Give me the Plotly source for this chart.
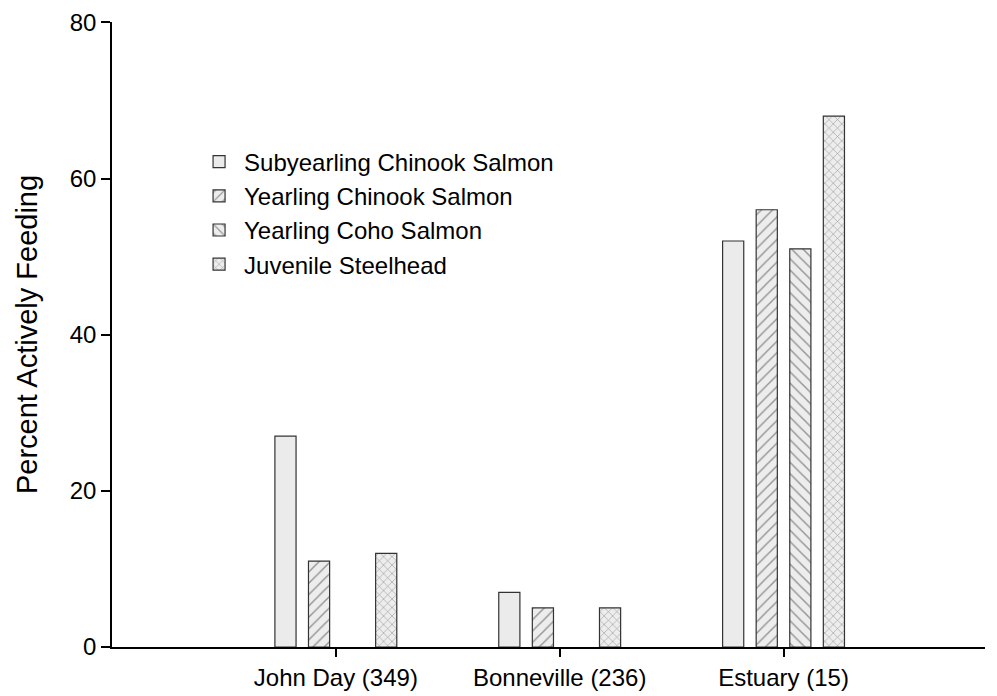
import plotly.graph_objects as go

categories = ["John Day (349)", "Bonneville (236)", "Estuary (15)"]
series_names = ["Subyearling Chinook Salmon", "Yearling Chinook Salmon",
                "Yearling Coho Salmon", "Juvenile Steelhead"]
subyearling_chinook = [27, 7, 52]
yearling_chinook = [11, 5, 56]
yearling_coho = [None, None, 51]
juvenile_steelhead = [12, 5, 68]
y_ticks = [0, 20, 40, 60, 80]

series_values = [subyearling_chinook, yearling_chinook, yearling_coho, juvenile_steelhead]
patterns = ["", "/", "\\", "x"]
pattern_sizes = [8, 8, 8, 6]

fig = go.Figure()
for name, vals, pat, psz in zip(series_names, series_values, patterns, pattern_sizes):
    fig.add_trace(go.Bar(
        x=categories, y=vals, name=name,
        marker=dict(
            color="#ebebeb",
            line=dict(color="#333333", width=1.2),
            pattern=dict(shape=pat, fgcolor="#3c3c3c", bgcolor="#ededed",
                         size=psz, solidity=0.18) if pat else None,
        ),
    ))

fig.update_layout(
    barmode="group",
    bargap=0.40,
    bargroupgap=0.37,
    width=989, height=688,
    paper_bgcolor="white", plot_bgcolor="white",
    margin=dict(l=104, r=12, t=14, b=49, autoexpand=False),
    font=dict(family="Liberation Sans, Arial, sans-serif", size=24, color="black"),
    legend=dict(x=0.094, y=0.812, xanchor="left", yanchor="top",
                font=dict(size=24), bgcolor="rgba(0,0,0,0)",
                itemwidth=40, tracegroupgap=0),
    showlegend=True,
)
fig.update_xaxes(
    range=[-1.0, 2.9],
    showline=True, linecolor="black", linewidth=1.5,
    ticks="outside", ticklen=8, tickwidth=1.5, tickcolor="black",
    showgrid=False, zeroline=False,
    tickfont=dict(size=24),
)
fig.update_yaxes(
    range=[0, 80.05], tickvals=y_ticks,
    showline=True, linecolor="black", linewidth=1.5,
    ticks="outside", ticklen=9, tickwidth=1.5, tickcolor="black",
    showgrid=False, zeroline=False,
    ticklabeloverflow="allow",
    title=dict(text="Percent Actively Feeding", font=dict(size=29), standoff=24),
    tickfont=dict(size=24),
)

fig.write_html("out.html")
